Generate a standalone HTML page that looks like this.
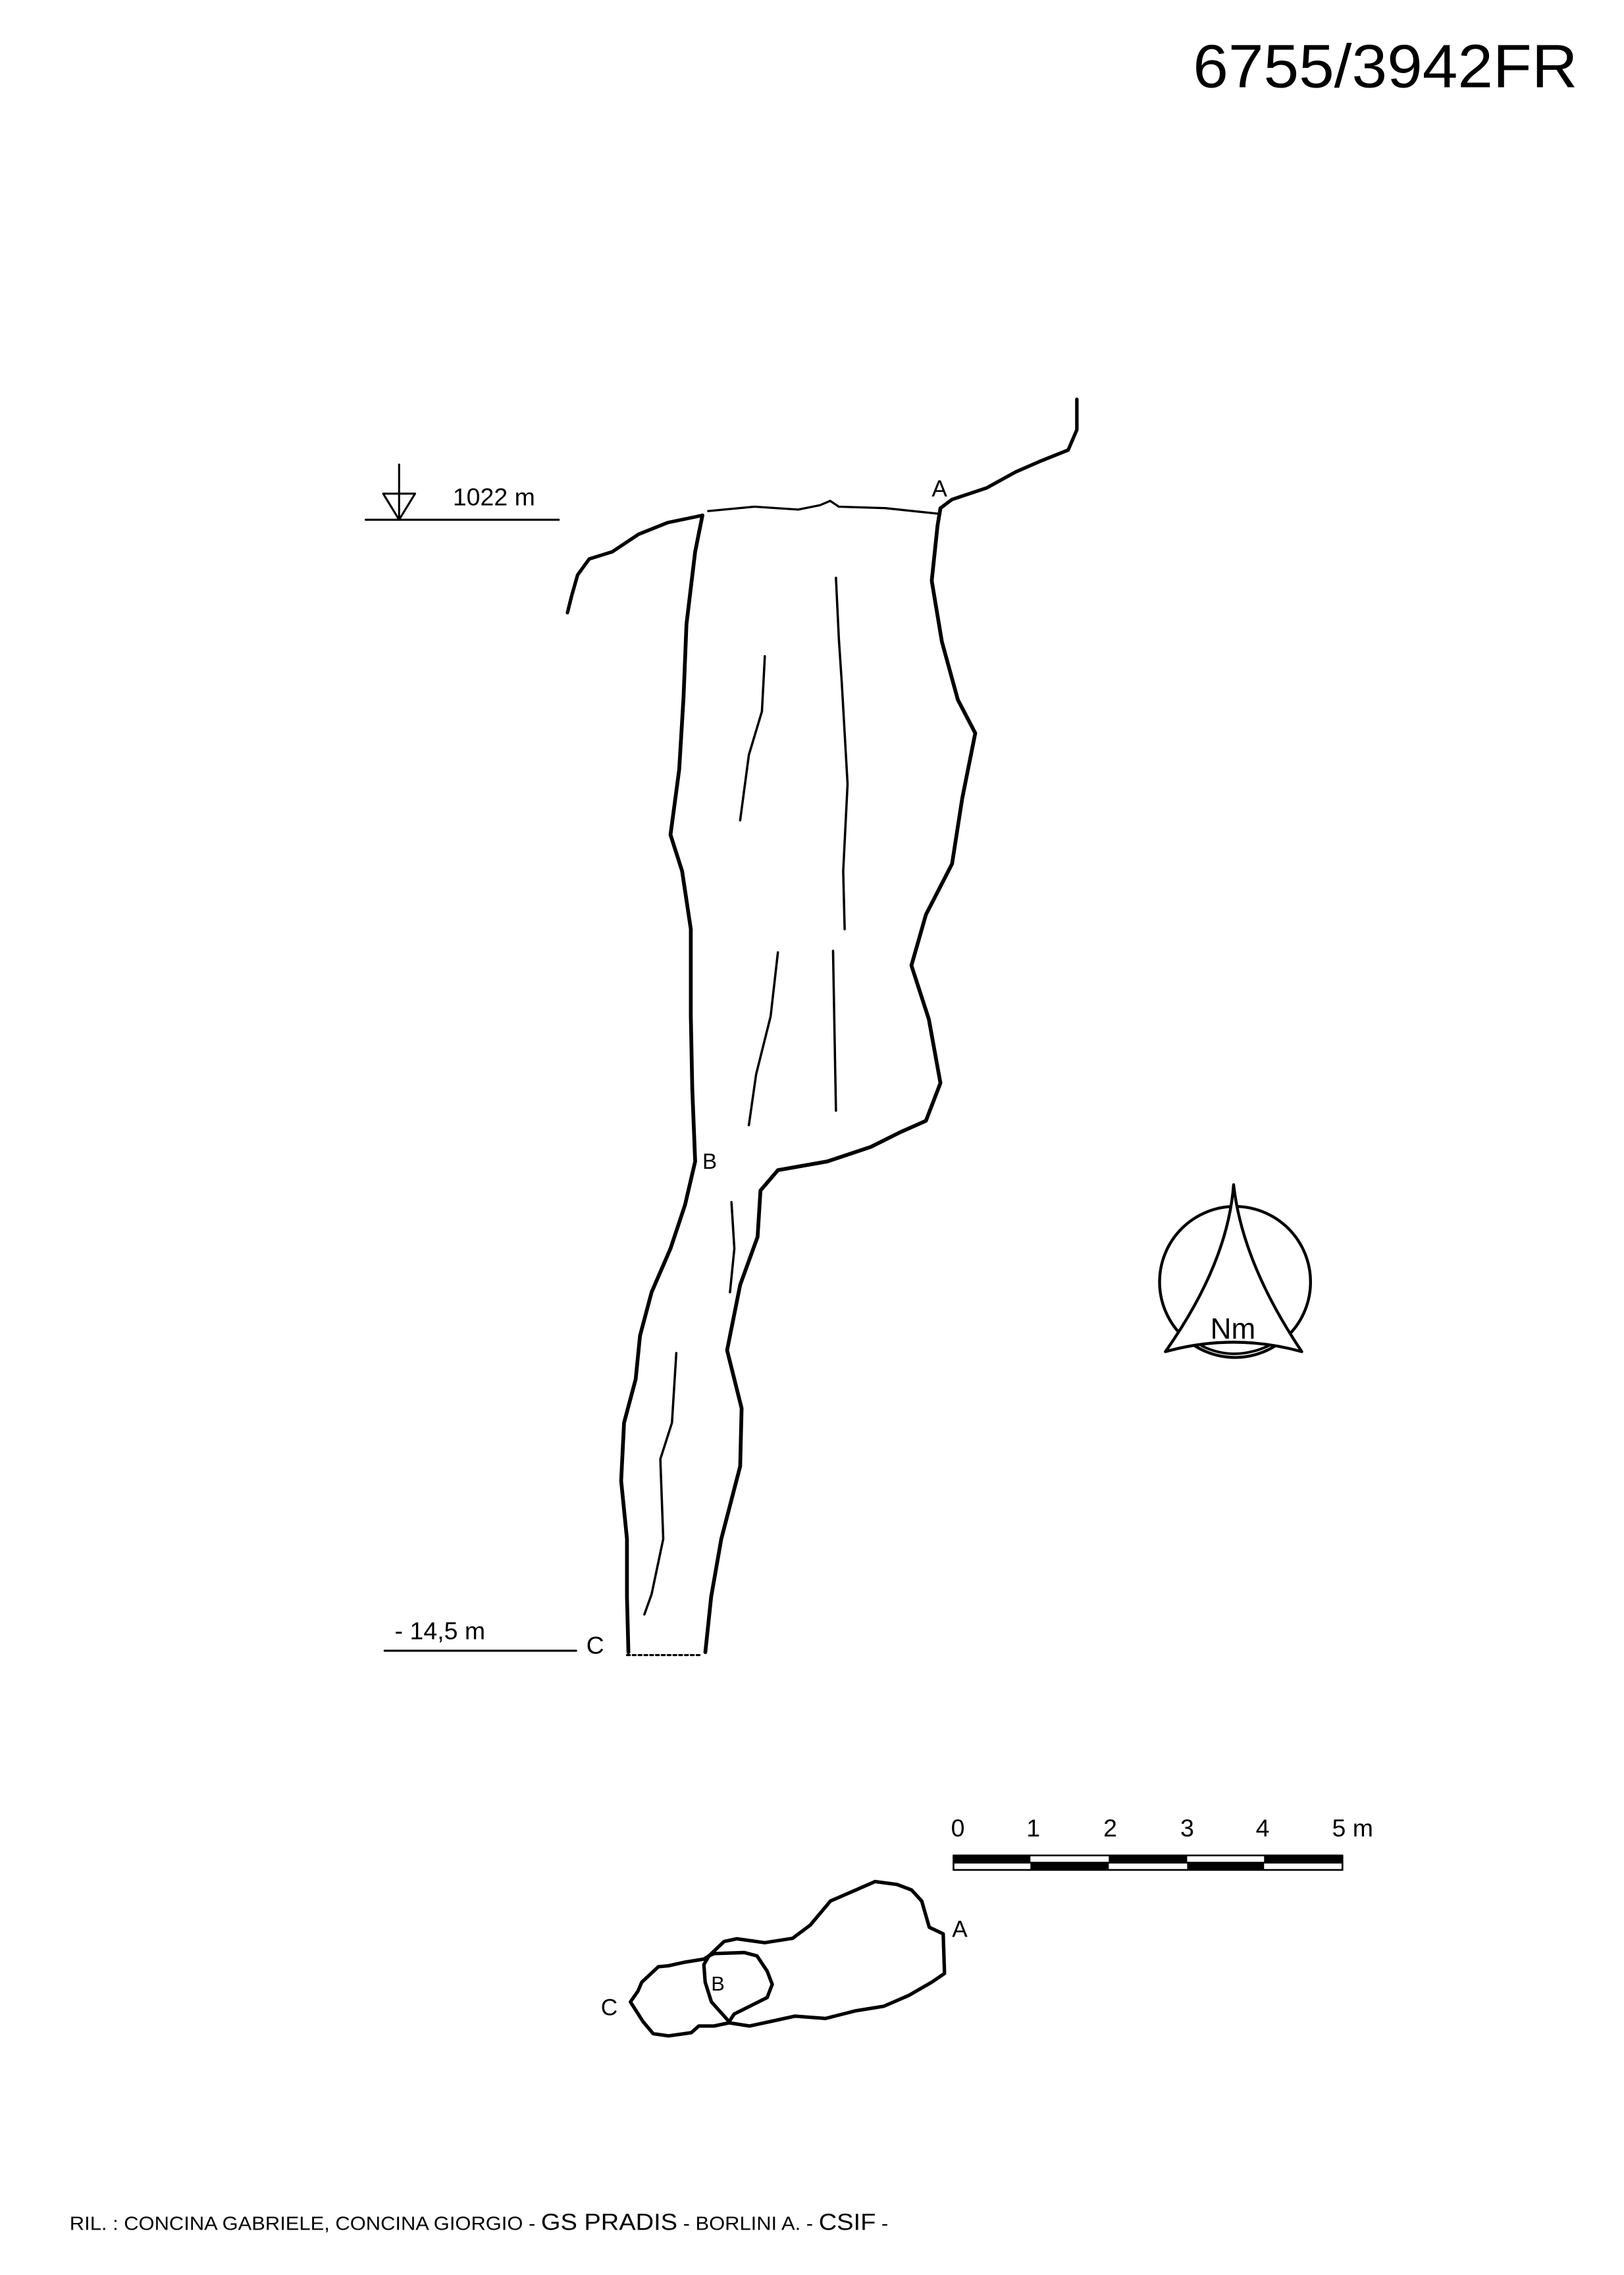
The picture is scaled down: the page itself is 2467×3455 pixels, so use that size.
<!DOCTYPE html>
<html><head><meta charset="utf-8"><style>
html,body{margin:0;padding:0;background:#fff;}
svg{display:block;}
text{font-family:"Liberation Sans",sans-serif;fill:#000;}
</style></head><body>
<svg width="2467" height="3455" viewBox="0 0 1119 1567" preserveAspectRatio="none" xmlns="http://www.w3.org/2000/svg">
<rect width="1119" height="1567" fill="#fff"/>
<text x="822" y="60" font-size="42" textLength="265" lengthAdjust="spacingAndGlyphs">6755/3942FR</text>

<g fill="none" stroke="#000" stroke-linejoin="round" stroke-linecap="round">
<path stroke-width="2.6" d="M484,355 L479,380 L473,430 L471,480 L468,530 L462,575 L470,600 L476,640 L476,700 L477,750 L479,800 L472,830 L462,860 L449,890 L441,920 L438,950 L430,980 L428,1020 L432,1060 L432,1100 L433,1138"/>
<path stroke-width="2.6" d="M486,1138 L490,1100 L497,1060 L510,1010 L511,970 L501,930 L510,885 L522,852 L524,820 L536,806 L570,800 L600,790 L620,780 L638,772 L648,746 L640,702 L628,665 L638,630 L656,595 L663,550 L672,505 L660,482 L649,442 L642,400 L646,362 L648,350"/>
<path stroke-width="1.5" d="M488,352 L520,349 L550,351 L565,348 L572,345 L578,349 L610,350 L648,354"/>
<path stroke-width="2.4" d="M648,350 L656,344 L680,336 L700,325 L716,318 L736,310 L742,296 L742,275"/>
<path stroke-width="2.4" d="M484,355 L460,360 L440,368 L422,380 L406,385 L398,396 L394,410 L391,422"/>
<path stroke-width="1.4" stroke-dasharray="2,2" d="M432,1140 L482,1140"/>
<path stroke-width="1.6" d="M576,398 L578,440 L580,470 L584,540 L581,600 L582,640"/>
<path stroke-width="1.6" d="M574,655 L575,710 L576,765"/>
<path stroke-width="1.6" d="M527,452 L525,490 L516,520 L510,565"/>
<path stroke-width="1.6" d="M536,656 L531,700 L521,740 L516,775"/>
<path stroke-width="1.6" d="M504,828 L506,860 L503,890"/>
<path stroke-width="1.6" d="M466,932 L463,980 L455,1005 L457,1060 L449,1098 L444,1112"/>

<path stroke-width="1.4" d="M252,358 L385,358 M275,320 L275,358 M264,340 L286,340 L275,358 Z"/>
<path stroke-width="1.4" d="M265,1137 L397,1137"/>

<circle cx="851" cy="883" r="52" stroke-width="2"/>
<path stroke-width="2" fill="#fff" d="M850,816 Q846,870 803,931 Q850,918 897,931 Q856,870 850,816 Z"/>
<path stroke-width="1.8" d="M828,927 Q850,938 874,927"/>

<rect x="657" y="1278" width="268" height="10" stroke-width="1.2"/>
<path stroke-width="1.2" d="M657,1283 L925,1283"/>
<rect x="657" y="1278" width="53" height="5" fill="#000" stroke="none"/>
<rect x="710" y="1283" width="54" height="5" fill="#000" stroke="none"/>
<rect x="764" y="1278" width="54" height="5" fill="#000" stroke="none"/>
<rect x="818" y="1283" width="53" height="5" fill="#000" stroke="none"/>
<rect x="871" y="1278" width="54" height="5" fill="#000" stroke="none"/>

<path stroke-width="2.4" d="M649.9,1332 L650.8,1359.3 L642,1365.3 L626.3,1374.4 L608.9,1381.9 L589.7,1385 L568.7,1390.3 L547.8,1388.7 L530.4,1392.5 L516.4,1395.5 L502.4,1393.3 L492,1395.5 L481.5,1395.5 L476.3,1400.1 L460.6,1402.3 L450.1,1400.8 L443.1,1392.5 L434.4,1378.9 L439.6,1371.4 L442.2,1365.3 L453.6,1354.7 L460.6,1354 L471,1351.7 L485,1349.4 L488.5,1347.2 L498.9,1337.3 L507.7,1335.4 L526.9,1338.1 L546.1,1335.1 L558.3,1326 L572.2,1309.4 L589.7,1301.8 L603,1296 L618,1298 L628.1,1301.8 L635.1,1309.4 L640.3,1327.5 Z"/>
<path stroke-width="2.4" d="M488.5,1347.2 L485,1353.2 L485.9,1365.3 L490.2,1378.9 L502.4,1392.5"/>
<path stroke-width="2.4" d="M488.5,1347.2 L492,1345.6 L512.9,1344.9 L521.6,1347.2 L528.6,1357.7 L532.1,1366.8 L528.6,1375.9 L516.4,1382 L505.9,1387.2 L502.4,1392.5"/>
</g>

<text x="312" y="348" font-size="17">1022  m</text>
<text x="272" y="1129" font-size="17">- 14,5 m</text>
<text x="404" y="1139" font-size="17">C</text>
<text x="642" y="342" font-size="16">A</text>
<text x="484" y="805" font-size="15">B</text>
<text x="834" y="922" font-size="20" font-family="Liberation Serif">Nm</text>
<text x="660" y="1265" font-size="17" text-anchor="middle">0</text>
<text x="712" y="1265" font-size="17" text-anchor="middle">1</text>
<text x="765" y="1265" font-size="17" text-anchor="middle">2</text>
<text x="818" y="1265" font-size="17" text-anchor="middle">3</text>
<text x="870" y="1265" font-size="17" text-anchor="middle">4</text>
<text x="932" y="1265" font-size="17" text-anchor="middle">5 m</text>
<text x="656" y="1334" font-size="16">A</text>
<text x="490" y="1371" font-size="14">B</text>
<text x="414" y="1388" font-size="16">C</text>
<text x="48" y="1536" font-size="13" textLength="564" lengthAdjust="spacingAndGlyphs">RIL. : CONCINA GABRIELE, CONCINA GIORGIO - <tspan font-size="16">GS PRADIS</tspan> - BORLINI A. - <tspan font-size="16">CSIF</tspan> -</text>
</svg>
</body></html>
